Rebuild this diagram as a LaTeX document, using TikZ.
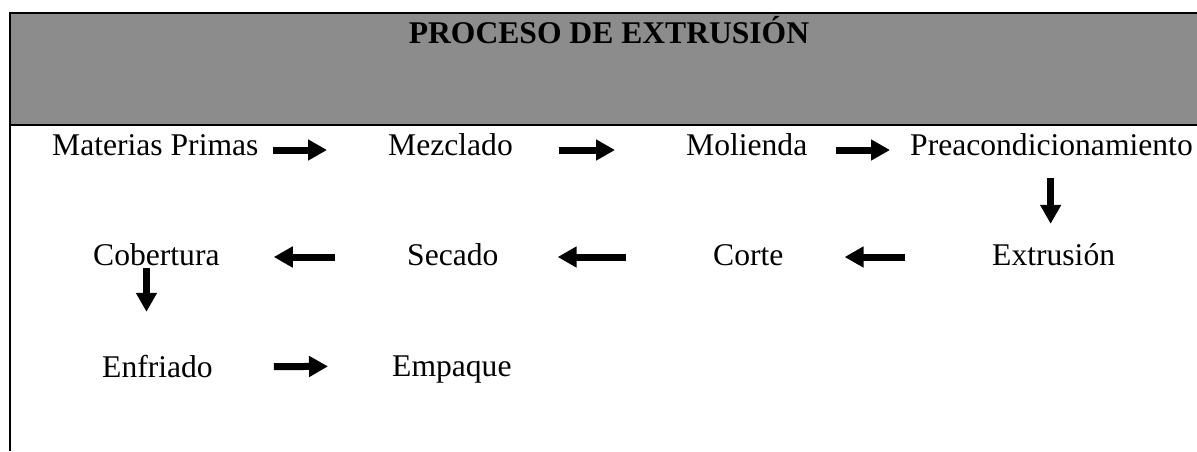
\documentclass[tikz,border=0pt]{standalone}
\usepackage{fontspec}
\setmainfont{Liberation Serif}
\usetikzlibrary{arrows.meta}
\definecolor{bandgray}{HTML}{8C8C8C}
\tikzset{
  lbl/.style={anchor=base west, inner sep=0pt, text height=22pt, text depth=12pt, font=\fontsize{31.6}{36}\selectfont},
  blockarrow/.style={line width=7pt, -{Triangle[length=19pt,width=20pt]}},
  frameline/.style={line width=2pt}
}
\begin{document}
\begin{tikzpicture}[x=1pt,y=-1pt]
\useasboundingbox (0,0) rectangle (1197,451);
\fill[bandgray] (10,13) rectangle (1197,124);
\draw[frameline] (1197,13) -- (10,13) -- (10,451);
\draw[frameline] (10,125) -- (1197,125);
\node[anchor=base, inner sep=0pt, font=\fontsize{31.6}{36}\selectfont\bfseries] (title) at (609,43) {PROCESO DE EXTRUSIÓN};
% row 1
\node[lbl] (mp) at (52,155) {Materias Primas};
\node[lbl] (mez) at (388,155) {Mezclado};
\node[lbl] (mol) at (686,155) {Molienda};
\node[lbl] (pre) at (910,155) {Preacondicionamiento};
% row 2
\node[lbl] (ext) at (992,265) {Extrusión};
\node[lbl] (cor) at (713,265) {Corte};
\node[lbl] (sec) at (407,265) {Secado};
\node[lbl] (cob) at (93,265) {Cobertura};
% row 3
\node[lbl] (enf) at (102,377) {Enfriado};
\node[lbl] (emp) at (392,376) {Empaque};
% arrows
\draw[blockarrow, shorten <=14pt, shorten >=61pt] (mp.east) -- (mez.west);
\draw[blockarrow, shorten <=46pt, shorten >=71pt] (mez.east) -- (mol.west);
\draw[blockarrow, shorten <=28pt, shorten >=20pt] (mol.east) -- (pre.west);
\draw[blockarrow, shorten <=11pt, shorten >=19pt] ([xshift=-3pt]pre.south -| ext.north) -- ([xshift=-3pt]ext.north);
\draw[blockarrow, shorten <=87pt, shorten >=61pt] ([yshift=3pt]ext.west) -- ([yshift=3pt]cor.east);
\draw[blockarrow, shorten <=87pt, shorten >=59pt] ([yshift=3pt]cor.west) -- ([yshift=3pt]sec.east);
\draw[blockarrow, shorten <=72pt, shorten >=54pt] ([yshift=3pt]sec.west) -- ([yshift=3pt]cob.east);
\draw[blockarrow, shorten <=-9pt, shorten >=43pt] ([xshift=-11pt]cob.south -| enf.north) -- ([xshift=-11pt]enf.north);
\draw[blockarrow, shorten <=61pt, shorten >=64pt] ([yshift=5pt]enf.east) -- ([yshift=5pt]emp.west);
\end{tikzpicture}
\end{document}
